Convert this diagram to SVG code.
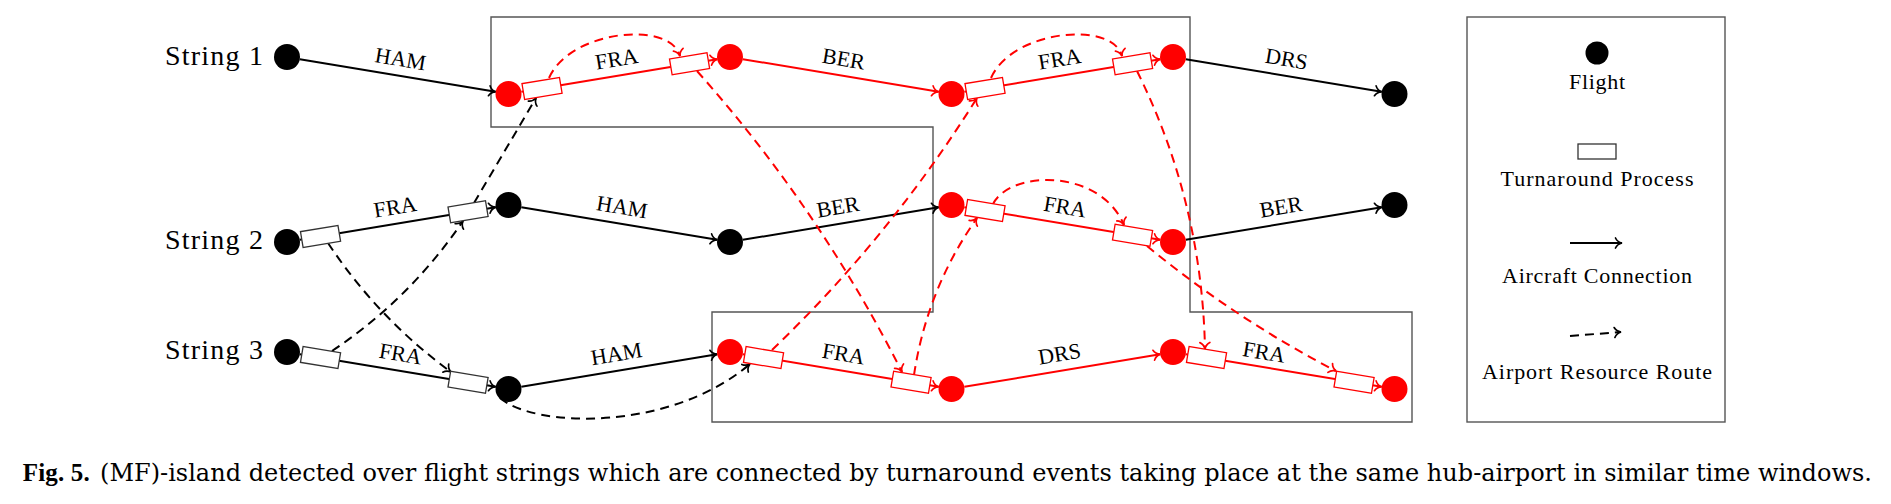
<svg xmlns="http://www.w3.org/2000/svg" width="1891" height="504" viewBox="0 0 1891 504">
<style>
.str{font-family:"Liberation Serif",serif;font-size:28px;fill:#000}
.lab{font-family:"Liberation Serif",serif;font-size:22px;fill:#000;text-anchor:middle}
.leg{font-family:"Liberation Serif",serif;font-size:22px;fill:#000;text-anchor:middle}
.cap{font-family:"DejaVu Serif",serif;font-size:24px;fill:#000}
.capb{font-family:"Liberation Serif",serif;font-size:25px;font-weight:bold;fill:#000}
.eb{stroke:#000;stroke-width:2;fill:none;marker-end:url(#ak)}
.er{stroke:#f00;stroke-width:2;fill:none;marker-end:url(#ar)}
.db{stroke:#000;stroke-width:2;fill:none;stroke-dasharray:9 6;marker-end:url(#ak)}
.dr{stroke:#f00;stroke-width:2;fill:none;stroke-dasharray:9 6;marker-end:url(#ar)}
.fb{fill:#000}
.fr{fill:#f00}
.tb{fill:#fff;stroke:#333;stroke-width:1.3}
.tr{fill:#fff;stroke:#f00;stroke-width:1.3}
.box{fill:none;stroke:#555;stroke-width:1.4}
</style>
<defs>
<marker id="ak" viewBox="-10 -7 12 14" refX="0" refY="0" markerWidth="12" markerHeight="14" markerUnits="userSpaceOnUse" orient="auto">
<path d="M-6.5,-5 C-5,-1.8 -1.8,-0.4 0,0 C-1.8,0.4 -5,1.8 -6.5,5" fill="none" stroke="#000" stroke-width="1.7" stroke-dasharray="none" stroke-linecap="round"/>
</marker>
<marker id="ar" viewBox="-10 -7 12 14" refX="0" refY="0" markerWidth="12" markerHeight="14" markerUnits="userSpaceOnUse" orient="auto">
<path d="M-6.5,-5 C-5,-1.8 -1.8,-0.4 0,0 C-1.8,0.4 -5,1.8 -6.5,5" fill="none" stroke="#f00" stroke-width="1.7" stroke-dasharray="none" stroke-linecap="round"/>
</marker>
<rect id="tp" x="-19" y="-8" width="38" height="16"/>
</defs>
<rect width="1891" height="504" fill="#fff"/>

<g id="island">
<polygon class="box" points="491,17 1190,17 1190,312 1412,312 1412,422 712,422 712,312 933,312 933,127 491,127"/>
</g>

<g id="string-labels">
<text class="str" x="165" y="65" textLength="98">String 1</text>
<text class="str" x="165" y="249" textLength="98">String 2</text>
<text class="str" x="165" y="359" textLength="98">String 3</text>
</g>

<g id="connectors">
<!-- aircraft connections -->
<path class="eb" d="M299.82,59.14 L495.68,91.86"/>
<path class="er" d="M521.32,91.86 L717.18,59.14"/>
<path class="er" d="M742.82,59.14 L938.68,91.86"/>
<path class="er" d="M964.32,91.86 L1160.18,59.14"/>
<path class="eb" d="M1185.82,59.14 L1381.68,91.86"/>
<path class="eb" d="M299.82,239.86 L495.68,207.14"/>
<path class="eb" d="M521.32,207.14 L717.18,239.86"/>
<path class="eb" d="M742.82,239.86 L938.68,207.14"/>
<path class="er" d="M964.32,207.14 L1160.18,239.86"/>
<path class="eb" d="M1185.82,239.86 L1381.68,207.14"/>
<path class="eb" d="M299.82,354.14 L495.68,386.86"/>
<path class="eb" d="M521.32,386.86 L717.18,354.14"/>
<path class="er" d="M742.82,354.14 L938.68,386.86"/>
<path class="er" d="M964.32,386.86 L1160.18,354.14"/>
<path class="er" d="M1185.82,354.14 L1381.68,386.86"/>
<!-- airport resource routes -->
<path class="db" d="M474,203 L536,98"/>
<path class="db" d="M332,351 Q410,299 463,221"/>
<path class="db" d="M328,243 Q378,318.5 451,372"/>
<path class="db" d="M500,398 C535,428 670,432 750,364"/>
<path class="dr" d="M549,78 C570,30 670,20 680,56"/>
<path class="dr" d="M697,71 Q819,208 902,372"/>
<path class="dr" d="M772,350 Q890,237 977,98"/>
<path class="dr" d="M991,78 C1012,30 1112,20 1122,56"/>
<path class="dr" d="M914,375 Q927,289 977,218"/>
<path class="dr" d="M1137,71 Q1202,202 1205,349"/>
<path class="dr" d="M1147,246 Q1235,318.5 1336,371"/>
<path class="dr" d="M993,204 C1010,170 1100,168 1124,225"/>
<!-- labels -->
<text class="lab" transform="translate(400.55,58.73) rotate(9.48)" y="7.5">HAM</text>
<text class="lab" transform="translate(616.45,58.73) rotate(-9.48)" y="7.5">FRA</text>
<text class="lab" transform="translate(843.55,58.73) rotate(9.48)" y="7.5">BER</text>
<text class="lab" transform="translate(1059.45,58.73) rotate(-9.48)" y="7.5">FRA</text>
<text class="lab" transform="translate(1286.55,58.73) rotate(9.48)" y="7.5">DRS</text>
<text class="lab" transform="translate(394.95,206.73) rotate(-9.48)" y="7.5">FRA</text>
<text class="lab" transform="translate(622.05,206.73) rotate(9.48)" y="7.5">HAM</text>
<text class="lab" transform="translate(837.95,206.73) rotate(-9.48)" y="7.5">BER</text>
<text class="lab" transform="translate(1065.05,206.73) rotate(9.48)" y="7.5">FRA</text>
<text class="lab" transform="translate(1280.95,206.73) rotate(-9.48)" y="7.5">BER</text>
<text class="lab" transform="translate(400.55,353.73) rotate(9.48)" y="7.5">FRA</text>
<text class="lab" transform="translate(616.45,353.73) rotate(-9.48)" y="7.5">HAM</text>
<text class="lab" transform="translate(843.55,353.73) rotate(9.48)" y="7.5">FRA</text>
<text class="lab" transform="translate(1059.45,353.73) rotate(-9.48)" y="7.5">DRS</text>
<text class="lab" transform="translate(1264,352) rotate(9.48)" y="7.5">FRA</text>
</g>

<!-- turnaround processes -->
<g id="s1t1" transform="translate(542.03,88.4) rotate(-9.48)"><use href="#tp" class="tr"/></g>
<g id="s1t2" transform="translate(689.56,63.76) rotate(-9.48)"><use href="#tp" class="tr"/></g>
<g id="s1t3" transform="translate(985.03,88.4) rotate(-9.48)"><use href="#tp" class="tr"/></g>
<g id="s1t4" transform="translate(1132.56,63.76) rotate(-9.48)"><use href="#tp" class="tr"/></g>
<g id="s2t1" transform="translate(320.53,236.4) rotate(-9.48)"><use href="#tp" class="tb"/></g>
<g id="s2t2" transform="translate(468.06,211.76) rotate(-9.48)"><use href="#tp" class="tb"/></g>
<g id="s2t3" transform="translate(985.03,210.6) rotate(9.48)"><use href="#tp" class="tr"/></g>
<g id="s2t4" transform="translate(1132.56,235.24) rotate(9.48)"><use href="#tp" class="tr"/></g>
<g id="s3t1" transform="translate(320.53,357.6) rotate(9.48)"><use href="#tp" class="tb"/></g>
<g id="s3t2" transform="translate(468.06,382.24) rotate(9.48)"><use href="#tp" class="tb"/></g>
<g id="s3t3" transform="translate(763.53,357.6) rotate(9.48)"><use href="#tp" class="tr"/></g>
<g id="s3t4" transform="translate(911.06,382.24) rotate(9.48)"><use href="#tp" class="tr"/></g>
<g id="s3t5" transform="translate(1206.53,357.6) rotate(9.48)"><use href="#tp" class="tr"/></g>
<g id="s3t6" transform="translate(1354.06,382.24) rotate(9.48)"><use href="#tp" class="tr"/></g>

<!-- flights -->
<g id="s1f1"><circle class="fb" cx="287" cy="57" r="13"/></g>
<g id="s1f2"><circle class="fr" cx="508.5" cy="94" r="13"/></g>
<g id="s1f3"><circle class="fr" cx="730" cy="57" r="13"/></g>
<g id="s1f4"><circle class="fr" cx="951.5" cy="94" r="13"/></g>
<g id="s1f5"><circle class="fr" cx="1173" cy="57" r="13"/></g>
<g id="s1f6"><circle class="fb" cx="1394.5" cy="94" r="13"/></g>
<g id="s2f1"><circle class="fb" cx="287" cy="242" r="13"/></g>
<g id="s2f2"><circle class="fb" cx="508.5" cy="205" r="13"/></g>
<g id="s2f3"><circle class="fb" cx="730" cy="242" r="13"/></g>
<g id="s2f4"><circle class="fr" cx="951.5" cy="205" r="13"/></g>
<g id="s2f5"><circle class="fr" cx="1173" cy="242" r="13"/></g>
<g id="s2f6"><circle class="fb" cx="1394.5" cy="205" r="13"/></g>
<g id="s3f1"><circle class="fb" cx="287" cy="352" r="13"/></g>
<g id="s3f2"><circle class="fb" cx="508.5" cy="389" r="13"/></g>
<g id="s3f3"><circle class="fr" cx="730" cy="352" r="13"/></g>
<g id="s3f4"><circle class="fr" cx="951.5" cy="389" r="13"/></g>
<g id="s3f5"><circle class="fr" cx="1173" cy="352" r="13"/></g>
<g id="s3f6"><circle class="fr" cx="1394.5" cy="389" r="13"/></g>

<g id="legend">
<rect class="box" x="1467" y="17" width="258" height="405"/>
<circle class="fb" cx="1597" cy="53" r="11.5"/>
<text class="leg" x="1597" y="89" textLength="56">Flight</text>
<rect class="tb" x="1578" y="144" width="38" height="15"/>
<text class="leg" x="1597" y="186" textLength="193">Turnaround Process</text>
<path class="eb" d="M1570,243 L1622,243"/>
<text class="leg" x="1597" y="283" textLength="190">Aircraft Connection</text>
<path class="db" d="M1570,336 L1621,332"/>
<text class="leg" x="1597" y="379" textLength="230">Airport Resource Route</text>
</g>

<g id="caption">
<text class="capb" x="22.7" y="481" textLength="67">Fig. 5.</text>
<text class="cap" x="100" y="481" textLength="1772">(MF)-island detected over flight strings which are connected by turnaround events taking place at the same hub-airport in similar time windows.</text>
</g>
</svg>
